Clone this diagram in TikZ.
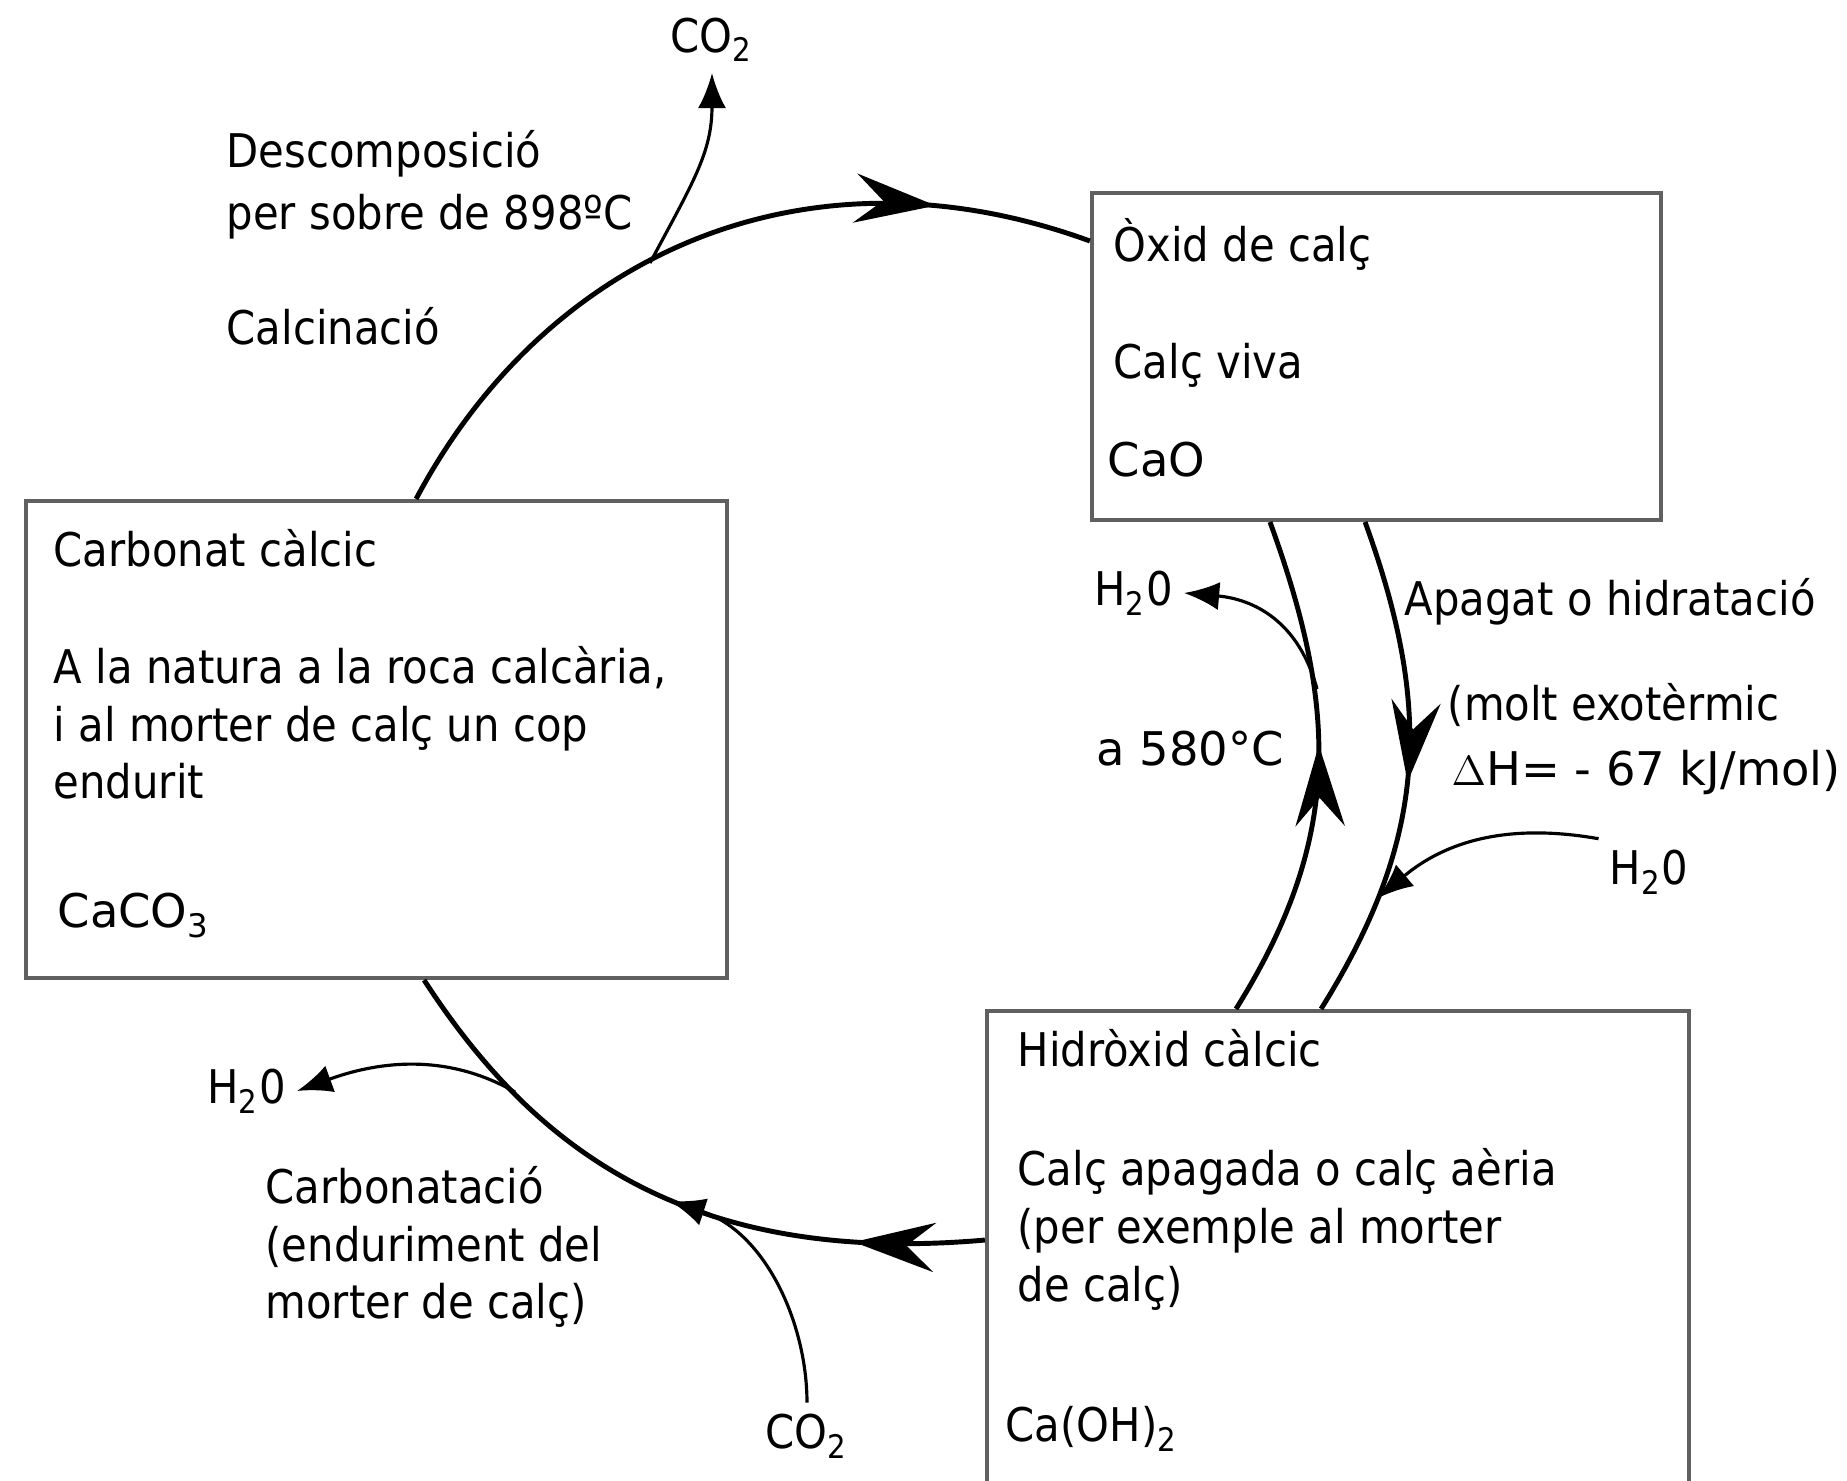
\documentclass[tikz,border=0pt]{standalone}
\usepackage{fontspec}
\setmainfont{DejaVu Sans}[FakeStretch=0.9]
\newfontfamily\chemfont{DejaVu Sans}
\usepackage{xcolor}
\usetikzlibrary{arrows.meta,calc,decorations.markings}
\definecolor{boxgray}{RGB}{96,96,96}

\begin{document}
\begin{tikzpicture}[x=0.01cm, y=0.01cm,
    box/.style={draw=boxgray, line width=1.1pt, inner sep=0pt},
    txt/.style={anchor=base west, inner sep=0pt, font=\fontsize{13.2}{16}\selectfont},
    chem/.style={txt, font=\chemfont\fontsize{13.2}{16}\selectfont},
    lbl/.style={inner sep=3pt, font=\fontsize{13.2}{16}\selectfont},
    cyc/.style={line width=1.4pt},
    side/.style={line width=0.9pt, -{Latex[length=10pt,width=8pt]}},
    midarrow/.style={postaction={decorate}, decoration={markings,
        mark=at position #1 with {\arrow{Stealth[length=23pt,width=14pt,inset=8pt]}}}}]
    \useasboundingbox (0,0) rectangle (1847,1481);

    % Boxes
    \node[box, minimum width=7.01cm, minimum height=4.77cm] (caco3) at (376.5,741.5) {};
    \node[box, minimum width=5.69cm, minimum height=3.27cm] (cao) at (1376.5,1124.5) {};
    \node[box, minimum width=7.02cm, minimum height=4.90cm] (caoh) at (1338,225) {};

    % Carbonat calcic
    \node[txt] (cc1) at (53,914) {Carbonat càlcic};
    \node[txt] (cc2) at (53,797) {A la natura a la roca calcària,};
    \node[txt] (cc3) at (53,739) {i al morter de calç un cop};
    \node[txt] (cc4) at (53,682) {endurit};
    \node[chem] (cc5) at (57,553) {CaCO\textsubscript{3}};

    % Oxid de calc
    \node[txt] (ox1) at (1113,1219) {Òxid de calç};
    \node[txt] (ox2) at (1113,1102) {Calç viva};
    \node[chem] (ox3) at (1107,1004) {CaO};

    % Hidroxid calcic
    \node[txt] (hy1) at (1017,414) {Hidròxid càlcic};
    \node[txt] (hy2) at (1017,295) {Calç apagada o calç aèria};
    \node[txt] (hy3) at (1017,237) {(per exemple al morter};
    \node[txt] (hy4) at (1017,179) {de calç)};
    \node[txt] (hy5) at (1005,39) {Ca(OH)\textsubscript{2}};

    % Process labels
    \node[txt] (dec1) at (226,1313) {Descomposició};
    \node[txt] (dec2) at (226,1251) {per sobre de 898ºC};
    \node[txt] (calc) at (226,1136) {Calcinació};
    \node[txt] (apa1) at (1404,865) {Apagat o hidratació};
    \node[txt] (apa2) at (1447,760) {(molt exotèrmic};
    \node[chem] (apa3) at (1451,695) {$\Delta$H= - 67 kJ/mol)};
    \node[chem] (deg) at (1096,715) {a 580°C};
    \node[txt] (car1) at (265,277) {Carbonatació};
    \node[txt] (car2) at (265,219) {(enduriment del};
    \node[txt] (car3) at (265,162) {morter de calç)};

    % Gas labels
    \node[lbl, anchor=south] (co2top) at (712,1408) {CO\textsubscript{2}};
    \node[lbl, anchor=east] (h2omid) at (1184,888) {H\textsubscript{2}0};
    \node[lbl] (h2oright) at (1649,609) {H\textsubscript{2}0};
    \node[lbl, anchor=east] (h2olow) at (297,390) {H\textsubscript{2}0};
    \node[lbl] (co2low) at (807,45) {CO\textsubscript{2}};

    % End points on the boxes
    \coordinate (calcin) at ([xshift=3.92cm]caco3.north west);
    \coordinate (calcout) at ([yshift=-0.50cm]cao.north west);
    \coordinate (dehyin) at ([xshift=2.51cm]caoh.north west);
    \coordinate (dehyout) at ([xshift=1.80cm]cao.south west);
    \coordinate (slakin) at ([xshift=2.75cm]cao.south west);
    \coordinate (slakout) at ([xshift=3.36cm]caoh.north west);
    \coordinate (carbin) at ([yshift=-2.31cm]caoh.north west);
    \coordinate (carbout) at ([xshift=4.00cm]caco3.south west);

    % Forks on the cycle
    \coordinate (co2fork) at (650,1218);
    \coordinate (h2ofork) at (1317,792);
    \coordinate (h2ojoin) at (1378,583);
    \coordinate (h2ofork2) at (515,389);
    \coordinate (co2join) at (670,280);

    % Cycle
    \draw[cyc, midarrow=0.8] (calcin) .. controls +(62:280) and +(160:300) .. (calcout);
    \draw[cyc, midarrow=0.55] (dehyin) .. controls +(58:200) and +(-70:200) .. (dehyout);
    \draw[cyc, midarrow=0.52] (slakin) .. controls +(-70:200) and +(58:200) .. (slakout);
    \draw[cyc, midarrow=0.2] (carbin) .. controls +(185:300) and +(-57:200) .. (carbout);

    % Gases in and out
    \draw[side] (co2fork) .. controls +(62:90) and +(-90:80) .. (co2top.south);
    \draw[side] (h2ofork) .. controls +(105:70) and +(-5:70) .. (h2omid.east);
    \draw[side] (h2oright.north west) .. controls +(170:90) and +(40:90) .. (h2ojoin);
    \draw[side] (h2ofork2) .. controls +(150:90) and +(20:70) .. (h2olow.east);
    \draw[side] (co2low.north) .. controls +(90:80) and +(-18:100) .. (co2join);
\end{tikzpicture}
\end{document}
